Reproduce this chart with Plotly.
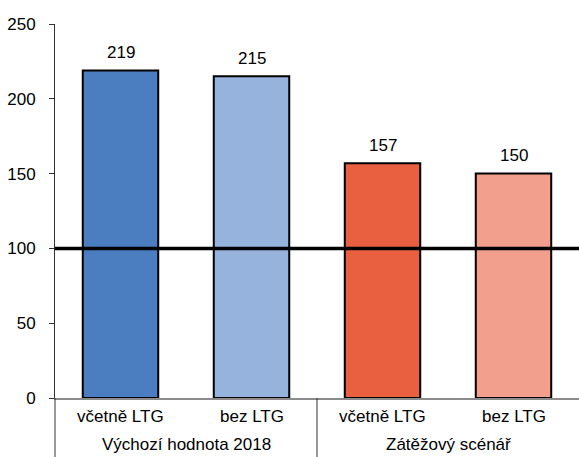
import plotly.graph_objects as go

# Bar categories, groups and values (index, 2018 = base)
bar_labels = ["včetně LTG", "bez LTG", "včetně LTG", "bez LTG"]
group_labels = ["Výchozí hodnota 2018", "Zátěžový scénář"]
values = [219, 215, 157, 150]
bar_colors = ["#4a7ec0", "#95b3dd", "#e8603f", "#f2a08d"]
y_ticks = [0, 50, 100, 150, 200, 250]
threshold = 100

FONT = "Liberation Sans, Arial, sans-serif"
x_pos = list(range(len(values)))

fig = go.Figure()
fig.add_trace(go.Bar(
    x=x_pos, y=values, width=0.576,
    marker=dict(color=bar_colors, line=dict(color="black", width=2)),
    hoverinfo="skip",
))

annotations = []
# value labels above bars
for xi, v in zip(x_pos, values):
    annotations.append(dict(x=xi, y=v, xref="x", yref="y", text=str(v),
                            showarrow=False, yanchor="middle", yshift=18,
                            font=dict(size=17, color="black", family=FONT)))
# category labels under bars
for xi, lab in zip(x_pos, bar_labels):
    annotations.append(dict(x=xi, y=-0.05, xref="x", yref="paper", text=lab,
                            showarrow=False, yanchor="middle",
                            font=dict(size=17, color="black", family=FONT)))
# group labels
for gi, lab in enumerate(group_labels):
    annotations.append(dict(x=gi * 2 + 0.5, y=-0.125, xref="x", yref="paper",
                            text=lab, showarrow=False, yanchor="middle",
                            font=dict(size=17, color="black", family=FONT)))

shapes = [
    # reference line at 100
    dict(type="line", xref="paper", yref="y", x0=0, x1=1,
         y0=threshold, y1=threshold, line=dict(color="black", width=3.5),
         layer="above"),
    # left axis extended down through the label area
    dict(type="line", xref="paper", yref="paper", x0=0, x1=0,
         y0=0, y1=-0.2, line=dict(color="#333333", width=1)),
    # separator between groups
    dict(type="line", xref="x", yref="paper", x0=1.5, x1=1.5,
         y0=0, y1=-0.2, line=dict(color="#333333", width=1)),
]

fig.update_layout(
    width=579, height=457,
    margin=dict(l=55, r=0, t=24, b=59),
    paper_bgcolor="white", plot_bgcolor="white",
    showlegend=False,
    font=dict(family=FONT, size=17, color="black"),
    xaxis=dict(range=[-0.5, 3.5], showticklabels=False, ticks="",
               showgrid=False, zeroline=False, showline=True,
               linecolor="#8c8c8c", linewidth=1.5),
    yaxis=dict(range=[0, 250], tickvals=y_ticks, ticks="outside", ticklen=5,
               tickcolor="#333333", showgrid=False, zeroline=False,
               showline=True, linecolor="#333333", linewidth=1,
               ticklabelstandoff=10,
               tickfont=dict(size=17, color="black", family=FONT)),
    annotations=annotations,
    shapes=shapes,
)

fig.write_html("out.html")
